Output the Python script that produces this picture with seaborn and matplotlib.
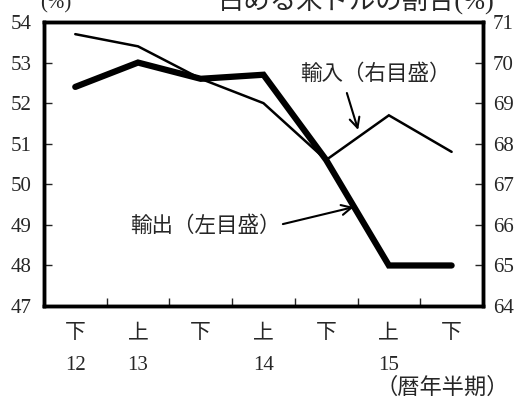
import numpy as np
import pandas as pd
import matplotlib
matplotlib.use('Agg')
import matplotlib.pyplot as plt
import matplotlib.transforms as mtransforms
import seaborn as sns

# Data
half_labels = ['下', '上', '下', '上', '下', '上', '下']
year_labels = {0: '12', 1: '13', 3: '14', 5: '15'}
export_share = [52.4, 53.0, 52.6, 52.7, 50.6, 48.0, 48.0]   # left axis
import_share = [70.7, 70.4, 69.6, 69.0, 67.6, 68.7, 67.8]   # right axis

sns.set_style('white')
plt.rcParams['font.family'] = ['Liberation Serif', 'Noto Sans CJK JP']
plt.rcParams['axes.unicode_minus'] = False

fig = plt.figure(figsize=(5.29, 4.07), dpi=100)
ax = fig.add_axes([0.083, 0.248, 0.830, 0.698])
ax2 = ax.twinx()

x = np.arange(len(half_labels))
df = pd.DataFrame({'x': x, 'export': export_share, 'import': import_share})

sns.lineplot(data=df, x='x', y='export', ax=ax, color='black', linewidth=4.5,
             solid_capstyle='round', solid_joinstyle='miter')
sns.lineplot(data=df, x='x', y='import', ax=ax2, color='black', linewidth=1.8,
             solid_joinstyle='miter')

ax.set_xlim(-0.5, 6.5)
ax.set_ylim(47, 54)
ax2.set_ylim(64, 71)
ax.set_yticks(range(47, 55))
ax2.set_yticks(range(64, 72))
ax.set_xticks(x)
ax.set_xticklabels(half_labels, fontsize=15)
ax.set_xticks(x[:-1] + 0.5, minor=True)
ax.set_xlabel('')
ax.set_ylabel('')
ax2.set_ylabel('')

ax.tick_params(axis='x', which='major', length=0, pad=13)
ax.tick_params(axis='x', which='minor', direction='in', length=6, width=1, bottom=True)
ax.tick_params(axis='y', direction='in', length=6, width=1, labelsize=15, pad=9, left=True)
ax2.tick_params(axis='y', direction='in', length=6, width=1, labelsize=15, pad=7, right=True)

for a in (ax, ax2):
    for s in a.spines.values():
        s.set_linewidth(2.5)
        s.set_color('black')

trans = mtransforms.blended_transform_factory(ax.transData, ax.transAxes)
for i, yr in year_labels.items():
    ax.text(i, -0.21, yr, transform=trans, ha='center', va='center', fontsize=15)

fig.text(0.962, 0.045, '（暦年半期）', ha='right', va='center', fontsize=16)
fig.text(0.075, 0.99, '(%)', ha='left', va='center', fontsize=15)
fig.text(0.935, 0.965, '占める米ドルの割合(%)', ha='right', va='bottom', fontsize=19)

# 輸入 label and arrow
ax2.text(4.78, 69.7, '輸入（右目盛）', ha='center', va='center', fontsize=15.5)
ax2.annotate('', xy=(4.51, 68.34), xytext=(4.33, 69.25),
             arrowprops=dict(arrowstyle='->', color='black', lw=1.5,
                             mutation_scale=18, shrinkA=0, shrinkB=0))
# 輸出 label and arrow
ax.text(2.08, 48.95, '輸出（左目盛）', ha='center', va='center', fontsize=15.5)
ax.annotate('', xy=(4.44, 49.44), xytext=(3.31, 49.02),
            arrowprops=dict(arrowstyle='->', color='black', lw=1.5,
                            mutation_scale=18, shrinkA=0, shrinkB=0))

fig.savefig('out.png', dpi=100)
